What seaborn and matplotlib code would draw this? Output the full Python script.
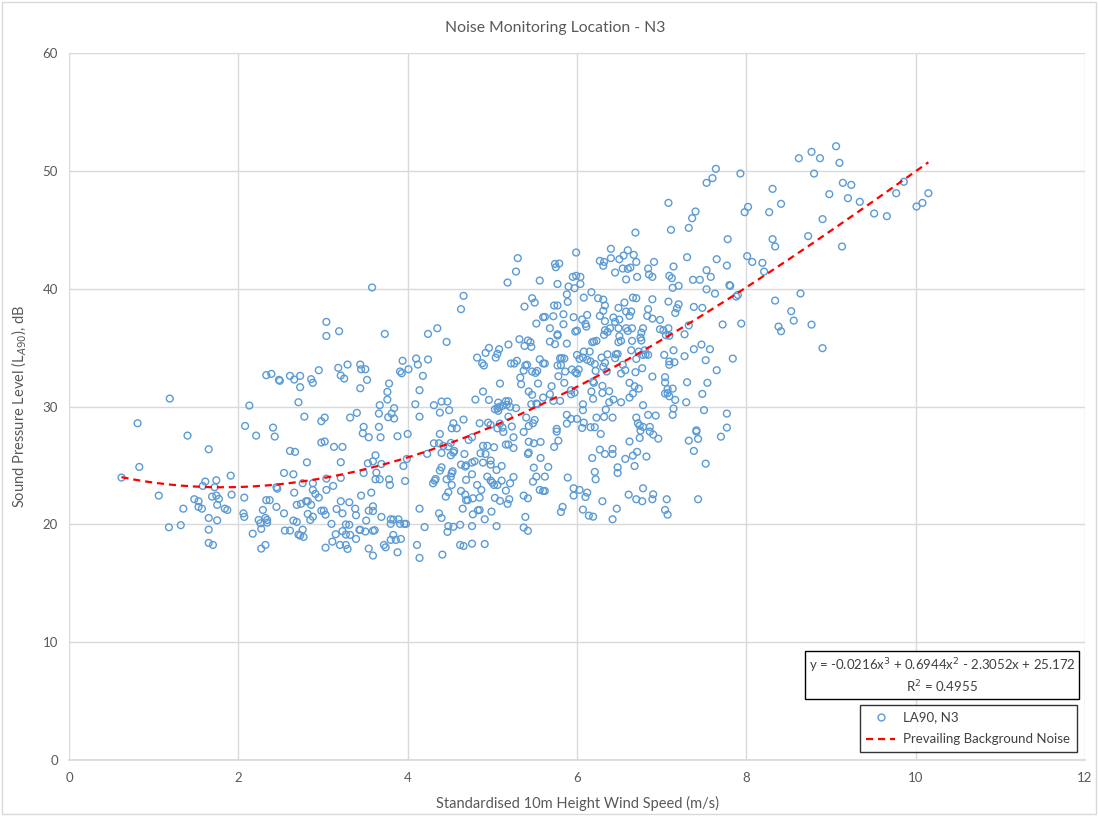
import numpy as np
import pandas as pd
import matplotlib
matplotlib.use("Agg")
import matplotlib.pyplot as plt
from matplotlib.lines import Line2D
from matplotlib.patches import Rectangle
import seaborn as sns

# ---------------- data ----------------
pts_top = [
    (5.30,42.59),(5.28,41.45),(5.18,40.52),(5.56,40.69),(3.58,40.1),
    (7.64,50.17),(7.93,49.77),(7.60,49.38),(7.53,48.98),(7.08,47.28),(8.02,46.94),(7.98,46.49),(7.40,46.55),
    (7.36,45.98),(7.32,45.16),(7.11,44.99),(6.69,44.76),(7.78,44.20),(5.99,43.07),(6.40,43.38),(6.60,43.26),
    (6.67,42.87),(6.55,42.81),(6.50,42.50),(6.40,42.59),(6.70,42.27),(6.27,42.36),(6.32,42.27),(6.31,41.94),
    (6.54,41.71),(6.60,41.68),(6.63,41.79),(6.45,41.37),(6.91,42.27),(6.84,41.71),(7.14,41.88),(7.30,42.67),
    (7.65,42.50),(7.77,41.96),(8.01,42.76),(8.07,42.27),(7.53,41.57),(7.58,41.00),(6.85,41.20),(6.89,41.00),
    (7.09,41.09),(7.12,40.89),(7.37,40.75),(7.45,40.75),(6.71,41.00),(6.58,40.78),(5.75,41.82),(5.79,42.13),
    (5.74,42.10),(5.95,41.00),(5.99,41.09),(6.04,41.00),(5.77,40.40),(6.04,40.40),(7.80,40.30),
    (9.06,52.09),(8.77,51.61),(8.62,51.07),(8.87,51.07),(9.10,50.68),(8.80,49.77),(9.14,48.98),(9.24,48.81),
    (8.31,48.47),(9.86,49.07),(9.77,48.10),(8.98,48.02),(9.20,47.68),(9.34,47.37),(8.41,47.20),(8.27,46.49),
    (8.90,45.90),(9.51,46.38),(9.66,46.15),(10.15,48.10),(10.08,47.28),(10.01,46.97),(8.31,44.20),(8.34,43.58),
    (8.73,44.46),(9.13,43.58),(8.19,42.19),(8.21,41.45),
]
pts_left_mid = [
    (1.19,30.67),(0.81,28.58),(2.13,30.08),(2.33,32.66),(2.39,32.77),(2.48,32.26),(2.49,32.18),(2.61,32.60),
    (2.66,32.29),(2.73,32.60),(2.73,31.64),(2.86,32.32),(2.88,32.01),(2.95,33.08),(2.71,30.36),(2.78,29.14),
    (3.02,29.06),(2.98,28.75),(2.08,28.35),(2.41,28.21),(3.04,37.18),(3.04,35.99),
]
pts_center_mid = [
    (4.66,39.39),(4.63,38.26),(5.47,39.19),(5.50,38.82),(5.38,38.48),(5.60,37.58),(5.52,37.04),(3.19,36.39),
    (3.73,36.16),(4.35,36.64),(4.24,36.16),(4.46,35.48),(5.32,35.71),(5.42,35.60),(5.45,35.46),(5.38,35.14),
    (5.46,35.06),(5.19,35.26),(4.96,34.97),(5.08,34.86),(4.92,34.55),(5.06,34.47),(5.04,34.15),(4.82,34.15),
    (4.88,33.67),(4.90,33.48),(5.22,33.65),(5.26,33.65),(5.29,33.88),(5.56,34.01),(5.60,33.65),(5.39,33.48),
    (5.41,33.54),(5.37,33.05),(5.47,32.97),(5.51,32.85),(5.53,33.02),(5.33,32.45),(5.34,31.89),(5.54,31.95),
    (5.09,31.95),(5.43,31.27),(5.47,30.99),(5.60,30.76),(4.89,31.27),(4.80,30.59),(4.96,30.56),(5.07,30.33),
    (5.16,30.45),(5.19,30.45),(5.17,30.14),(5.12,30.05),(5.03,29.77),(5.06,29.83),(5.07,29.63),(5.08,29.97),
    (5.28,29.86),(5.21,29.97),(5.46,30.19),(5.52,30.25),(5.53,30.19),(5.19,29.14),(5.40,29.06),(5.50,28.86),
    (5.48,28.58),(5.43,28.35),(4.95,28.63),(4.98,28.44),(4.85,28.58),(5.09,28.55),(5.06,28.15),(5.12,28.21),
    (5.23,28.30),(4.66,28.89),(4.54,28.58),(4.52,28.15),(4.58,28.15),(4.10,34.07),(4.12,33.56),(4.24,33.99),
    (4.18,32.60),(3.94,33.88),(3.91,32.97),(3.93,32.82),(4.01,33.16),(4.14,31.38),(4.09,30.19),(4.14,29.14),
    (4.31,30.11),(4.40,30.42),(4.47,30.42),(4.38,29.48),(4.49,29.69),(3.18,33.28),(3.29,33.56),(3.44,33.56),
    (3.45,33.16),(3.50,33.16),(3.21,32.63),(3.25,32.37),(3.52,32.26),(3.44,31.55),(3.78,31.95),(3.76,31.24),
    (3.76,30.59),(3.67,30.11),(3.66,29.40),(3.84,29.86),(3.81,29.40),(3.77,29.09),(3.84,28.98),(3.32,29.06),
    (3.40,29.46),(3.48,28.27),(3.66,28.27),
]
pts_right_mid = [
    (5.90,40.18),(5.97,40.04),(6.17,39.70),(7.13,40.07),(7.20,40.24),(7.53,39.95),(7.63,39.58),(7.81,40.24),
    (7.88,39.33),(7.90,39.47),(5.73,38.57),(5.77,38.57),(5.89,38.88),(5.88,39.52),(6.08,39.24),(6.25,39.19),
    (6.31,39.07),(6.33,38.57),(6.31,38.12),(6.66,39.24),(6.70,39.19),(6.56,38.82),(6.49,38.37),(6.58,38.06),
    (6.64,38.06),(6.62,37.69),(6.84,38.26),(6.89,39.10),(6.83,37.69),(6.89,37.46),(7.08,38.90),(7.20,38.67),
    (7.18,38.34),(7.16,37.94),(7.38,38.45),(7.48,38.37),(5.72,37.66),(5.62,37.60),(5.84,37.83),(5.96,37.58),
    (6.06,37.38),(6.12,37.77),(6.10,37.01),(6.11,36.78),(6.27,37.69),(6.33,37.24),(6.43,37.55),(6.45,37.18),
    (6.50,37.38),(6.39,36.64),(6.36,36.33),(6.32,36.08),(6.33,36.47),(6.49,36.64),(6.58,36.64),(6.65,36.64),
    (6.60,36.41),(6.78,36.64),(6.76,36.27),(6.75,35.85),(6.98,37.35),(6.98,36.56),(7.02,36.47),(7.08,36.64),
    (7.05,36.05),(7.09,36.00),(7.27,36.13),(7.32,36.88),(7.72,36.96),(7.94,37.04),(5.68,36.64),(5.77,36.13),
    (5.77,36.02),(5.84,36.98),(5.98,36.36),(6.00,36.44),(6.20,35.51),(6.23,35.57),(6.18,35.46),(6.50,35.97),
    (6.52,35.57),(6.49,35.46),(6.65,35.57),(6.76,35.60),(5.68,35.51),(5.74,35.29),(5.88,35.34),(6.08,34.66),
    (6.15,34.66),(6.00,34.38),(6.03,34.04),(6.07,34.15),(6.12,33.96),(6.16,33.82),(6.21,33.60),(6.29,34.15),
    (6.33,33.71),(6.36,34.43),(6.31,33.37),(6.46,34.43),(6.48,34.46),(6.45,34.10),(6.54,33.54),(6.64,34.77),
    (6.73,34.66),(6.78,34.38),(6.81,34.43),(6.84,34.38),(6.70,34.04),(6.80,34.77),(7.03,34.38),(7.14,34.77),
    (7.27,34.27),(7.38,34.86),(7.47,35.26),(7.57,34.86),(7.09,33.82),(7.15,33.76),(7.09,33.54),(7.52,33.93),
    (7.84,34.07),(7.65,33.08),(5.80,34.10),(5.82,34.10),(5.85,34.07),(5.77,33.48),(5.81,33.51),(5.62,33.65),
    (5.86,32.97),(5.94,33.14),(5.98,32.91),(6.00,32.80),(6.02,33.14),(5.78,32.57),(5.85,32.01),(5.70,31.72),
    (6.22,33.02),(6.19,32.12),(6.20,32.01),(6.35,32.97),(6.52,32.80),(6.57,33.08),(6.69,32.91),(6.77,33.25),
    (6.89,32.54),(7.04,32.49),(7.04,32.04),(6.62,32.01),(6.68,31.72),(6.73,31.52),(6.30,31.75),(6.30,31.15),
    (6.38,31.30),(6.66,31.10),(6.62,30.76),(7.07,31.47),(7.13,31.52),(7.04,31.10),(7.07,31.13),(7.09,30.87),
    (7.30,32.06),(7.54,32.01),(7.48,31.07),(5.93,31.38),(5.93,31.04),(5.97,31.18),(5.68,31.04),(5.72,30.48),
    (5.80,30.48),(6.17,31.27),(6.19,30.65),(6.43,30.59),(6.38,30.36),(6.52,30.36),(7.16,30.56),(7.29,30.36),
    (6.07,30.19),(6.07,29.69),(6.34,29.74),(6.78,30.11),(7.14,29.83),(7.50,29.69),(7.77,29.40),(5.88,29.29),
    (5.93,28.95),(6.00,28.95),(6.32,29.12),(6.42,29.06),(6.23,29.06),(6.70,29.06),(6.84,29.29),(6.93,29.23),
    (7.13,29.29),(6.08,28.63),(6.16,28.24),(6.21,28.24),(6.06,28.18),(5.88,28.55),(5.76,28.10),(6.72,28.58),
    (6.74,28.38),(6.78,28.27),(6.86,28.27),(7.41,27.98),(7.77,28.21),
    (8.64,39.59),(8.34,38.99),(8.53,38.09),(8.56,37.29),(8.38,36.78),(8.41,36.39),(8.77,36.95),(8.90,34.95),
]
pts_left_low = [
    (1.40,27.53),(1.65,26.37),(2.21,27.53),(2.43,27.45),(0.83,24.87),(0.62,23.97),(1.06,22.44),(1.35,21.33),
    (1.18,19.75),(1.32,19.93),(1.48,22.13),(1.53,21.96),(1.53,21.48),(1.57,21.33),(1.61,23.63),(1.58,23.26),
    (1.74,23.74),(1.72,23.15),(1.91,24.13),(1.69,22.35),(1.74,22.44),(1.77,22.16),(1.75,21.65),(1.84,21.33),
    (1.87,21.22),(1.92,22.52),(1.65,20.54),(1.75,20.34),(1.65,19.55),(1.65,18.42),(1.70,18.25),(2.07,22.27),
    (2.06,20.93),(2.07,20.63),(2.24,20.37),(2.26,20.09),(2.27,19.61),(2.32,20.54),(2.34,20.37),(2.34,20.14),
    (2.29,21.22),(2.17,19.21),(2.27,17.94),(2.32,18.25),(2.33,22.05),(2.37,22.05),(2.45,23.15),(2.46,23.03),
    (2.45,21.48),(2.54,20.93),(2.55,19.47),(2.61,19.47),(2.54,24.36),(2.65,24.25),(2.61,26.23),(2.67,26.15),
    (2.81,25.26),(2.66,22.69),(2.76,23.49),(2.88,23.49),(2.88,22.92),(2.91,22.58),(2.95,22.27),(2.69,21.65),
    (2.74,21.74),(2.80,21.96),(2.82,21.96),(2.86,21.65),(2.82,20.88),(2.88,20.65),(2.85,20.37),(2.65,20.32),
    (2.69,20.20),(2.76,19.55),(2.71,19.13),(2.73,19.05),(2.77,18.93),(2.98,21.16),(3.01,21.16),(3.04,22.92),
    (2.98,26.94),(3.02,27.03),(3.04,23.88),(3.03,20.82),(3.03,18.02),
]
pts_center_low = [
    (3.47,27.73),(3.54,27.39),(3.68,27.39),(3.88,27.48),(4.00,27.67),(3.13,26.57),(3.23,26.57),(3.21,25.27),
    (3.62,25.86),(3.59,25.35),(3.53,25.18),(3.69,25.12),(3.48,24.36),(3.63,24.39),(3.62,23.82),(3.67,23.82),
    (3.78,23.82),(3.79,23.34),(3.95,24.95),(3.99,25.55),(3.97,23.68),(3.21,23.94),(3.12,23.26),(3.45,22.44),
    (3.57,22.69),(3.21,21.96),(3.31,21.87),(3.16,21.30),(3.23,20.93),(3.38,21.33),(3.39,20.77),(3.54,21.16),
    (3.59,21.13),(3.59,21.53),(3.69,20.63),(3.51,20.32),(3.10,20.04),(3.27,19.99),(3.31,19.96),(3.23,19.42),
    (3.27,19.13),(3.32,19.10),(3.39,18.76),(3.15,19.16),(3.11,18.53),(3.20,18.25),(3.27,18.25),(3.29,17.91),
    (3.43,19.53),(3.44,19.53),(3.50,19.39),(3.59,19.45),(3.61,19.50),(3.54,17.94),(3.59,17.35),(3.72,18.25),
    (3.74,18.05),(3.80,20.43),(3.83,20.40),(3.89,20.43),(3.80,20.04),(3.91,20.04),(3.96,20.04),(3.98,20.04),
    (3.83,19.10),(3.80,18.68),(3.86,18.68),(3.92,18.76),(3.88,17.63),(4.11,18.25),(4.14,17.15),(4.20,19.77),
    (4.14,21.33),(4.37,20.93),(4.40,20.54),(4.41,17.43),(4.48,19.85),(4.54,19.79),(4.47,19.36),(4.62,19.96),
    (4.62,18.25),(4.66,18.16),(4.76,18.36),(4.91,18.33),(4.76,19.85),(5.05,19.85),(5.37,19.73),(5.42,19.45),
    (5.39,20.63),(4.65,21.33),(4.77,20.85),(4.83,21.19),(4.85,21.22),(4.91,20.43),(4.99,21.08),(4.68,22.52),
    (4.69,22.05),(4.71,22.05),(4.77,22.21),(4.85,22.27),(4.63,22.83),(4.48,22.72),(4.45,22.35),(4.52,23.34),
    (4.68,24.90),(4.69,23.77),(4.76,24.25),(4.82,23.34),(4.87,22.92),(4.94,24.05),(4.98,23.71),(5.00,23.54),
    (5.02,23.34),(5.06,23.34),(5.11,23.71),(5.16,22.86),(5.21,23.48),(5.25,24.02),(5.20,22.13),(5.18,21.74),
    (5.09,21.99),(5.03,22.24),(5.37,22.44),(5.42,22.21),(5.48,23.62),(5.52,24.05),(5.56,22.92),(5.60,22.83),
    (4.30,23.48),(4.32,23.71),(4.33,23.85),(4.38,24.56),(4.40,24.84),(4.46,23.82),(4.51,24.05),(4.52,24.33),
    (4.53,24.50),(4.23,25.98),(4.40,26.06),(4.37,26.88),(4.38,27.67),(4.42,26.66),(4.31,26.88),(4.48,26.60),
    (4.51,26.91),(4.55,26.23),(4.54,26.09),(4.51,25.86),(4.63,25.07),(4.69,25.01),(4.76,25.24),(4.79,25.35),
    (4.67,25.97),(4.72,27.16),(4.76,27.39),(4.89,25.24),(4.98,25.41),(4.98,25.07),(4.86,26.03),(4.92,25.97),
    (4.89,26.66),(4.94,26.66),(5.02,26.54),(5.13,27.84),(5.16,26.77),(5.19,26.77),(5.25,27.39),(5.25,26.48),
    (5.37,27.84),(5.43,27.01),(5.49,26.88),(5.57,26.99),(5.42,25.97),(5.43,26.09),(5.57,25.63),(5.49,24.81),
    (5.11,24.95),(5.05,24.61),
]
pts_right_low = [
    (5.76,27.87),(5.78,27.10),(5.73,26.57),(6.28,27.67),(6.62,27.03),(6.74,27.33),(6.86,27.87),(6.90,27.62),
    (6.96,27.27),(6.75,27.95),(7.32,27.10),(7.43,27.25),(7.41,27.87),(7.38,26.23),(7.70,27.44),(7.52,25.15),
    (6.27,26.34),(6.33,25.97),(6.42,26.40),(6.42,25.97),(6.18,25.63),(6.57,25.55),(6.66,25.83),(6.71,26.15),
    (6.82,25.75),(6.68,24.95),(6.48,24.84),(6.48,24.36),(6.21,24.45),(6.22,23.82),(5.66,24.87),(5.62,24.05),
    (5.62,22.83),(5.89,23.97),(5.96,23.06),(6.03,22.92),(5.96,22.44),(6.12,22.69),(6.10,22.32),(6.30,21.96),
    (5.83,21.48),(5.81,21.05),(6.07,21.25),(6.14,20.74),(6.19,20.65),(6.42,20.43),(6.47,21.33),(6.61,22.52),
    (6.70,22.13),(6.77,21.96),(6.78,23.06),(6.89,22.13),(6.90,22.55),(7.06,22.13),(7.04,21.22),(7.07,20.82),
    (7.43,22.13),
]

all_pts = pts_top + pts_left_mid + pts_center_mid + pts_right_mid + pts_left_low + pts_center_low + pts_right_low
wind_speed = [p[0] for p in all_pts]
la90 = [p[1] for p in all_pts]

# Trendline (3rd order polynomial, coefficients from the chart's equation)
trend_coeffs = [-0.0216, 0.6944, -2.3052, 25.172]
r_squared = 0.4955

title = "Noise Monitoring Location - N3"
xlabel = "Standardised 10m Height Wind Speed (m/s)"
ylabel = "Sound Pressure Level (L$_{A90}$), dB"
series_name = "LA90, N3"
trend_name = "Prevailing Background Noise"
x_ticks = [0, 2, 4, 6, 8, 10, 12]
y_ticks = [0, 10, 20, 30, 40, 50, 60]

# ---------------- plot ----------------
sns.set_theme(style="white")
plt.rcParams['font.family'] = ['Lato', 'DejaVu Sans']
text_col = "#595959"
blue = "#5B9BD5"

fig = plt.figure(figsize=(10.98, 8.16), dpi=100)
ax = fig.add_axes([69/1098, 1-760/816, (1085-69)/1098, (760-53)/816])

df = pd.DataFrame({"x": wind_speed, "y": la90})
sns.scatterplot(data=df, x="x", y="y", ax=ax, marker="o", s=24,
                facecolor="none", edgecolor=blue, linewidth=1.0, zorder=3, legend=False)

xs = np.linspace(min(wind_speed), max(wind_speed), 200)
ys = np.polyval(trend_coeffs, xs)
sns.lineplot(x=xs, y=ys, ax=ax, color="#FF0000", linewidth=1.6, zorder=4, legend=False)
ax.lines[-1].set_linestyle((0, (3.2, 2.2)))

ax.set_xlim(0, 12)
ax.set_ylim(0, 60)
ax.set_xticks(x_ticks)
ax.set_yticks(y_ticks)
ax.grid(True, color="#D9D9D9", linewidth=1.0)
ax.set_axisbelow(True)
for s in ["top", "right", "left"]:
    ax.spines[s].set_visible(False)
ax.spines["bottom"].set_color("#D9D9D9")
ax.tick_params(axis="both", length=0, colors=text_col, labelsize=9.5)
ax.tick_params(axis="x", pad=9)
ax.tick_params(axis="y", pad=8)
ax.set_xlabel(xlabel, color=text_col, fontsize=10.5, labelpad=8)
ax.set_ylabel(ylabel, color=text_col, fontsize=10.5, labelpad=10)

fig.text(555/1098, 1-28/816, title, ha="center", va="center", color=text_col, fontsize=11.3)

eq = "y = -0.0216x$^3$ + 0.6944x$^2$ - 2.3052x + 25.172\nR$^2$ = 0.4955"
ax.text((942-69)/1016, (760-676)/707, eq, transform=ax.transAxes, ha="center", va="center",
        multialignment="center", fontsize=9.5, color="#404040", linespacing=1.25,
        bbox=dict(boxstyle="square,pad=0.3", fc="white", ec="black", lw=1.0), zorder=6)

handles = [Line2D([], [], marker="o", ls="none", mfc="none", mec=blue, ms=5, mew=1.0),
           Line2D([], [], color="#FF0000", ls=(0, (3.2, 2.2)), lw=1.6)]
leg = ax.legend(handles, [series_name, trend_name], loc="lower right",
                bbox_to_anchor=((1077-69)/1016, (760-752)/707), bbox_transform=ax.transAxes,
                borderaxespad=0, frameon=True, fancybox=False, fontsize=9.5,
                labelcolor="#404040", handlelength=2.2, handletextpad=0.6,
                borderpad=0.5, labelspacing=0.75)
leg.get_frame().set_edgecolor("black")
leg.get_frame().set_linewidth(1.0)
leg.set_zorder(6)

fig.add_artist(Rectangle((0.0015, 0.002), 0.997, 0.996, transform=fig.transFigure,
                         fill=False, ec="#D9D9D9", lw=1.0))

fig.savefig("out.png", dpi=100)
